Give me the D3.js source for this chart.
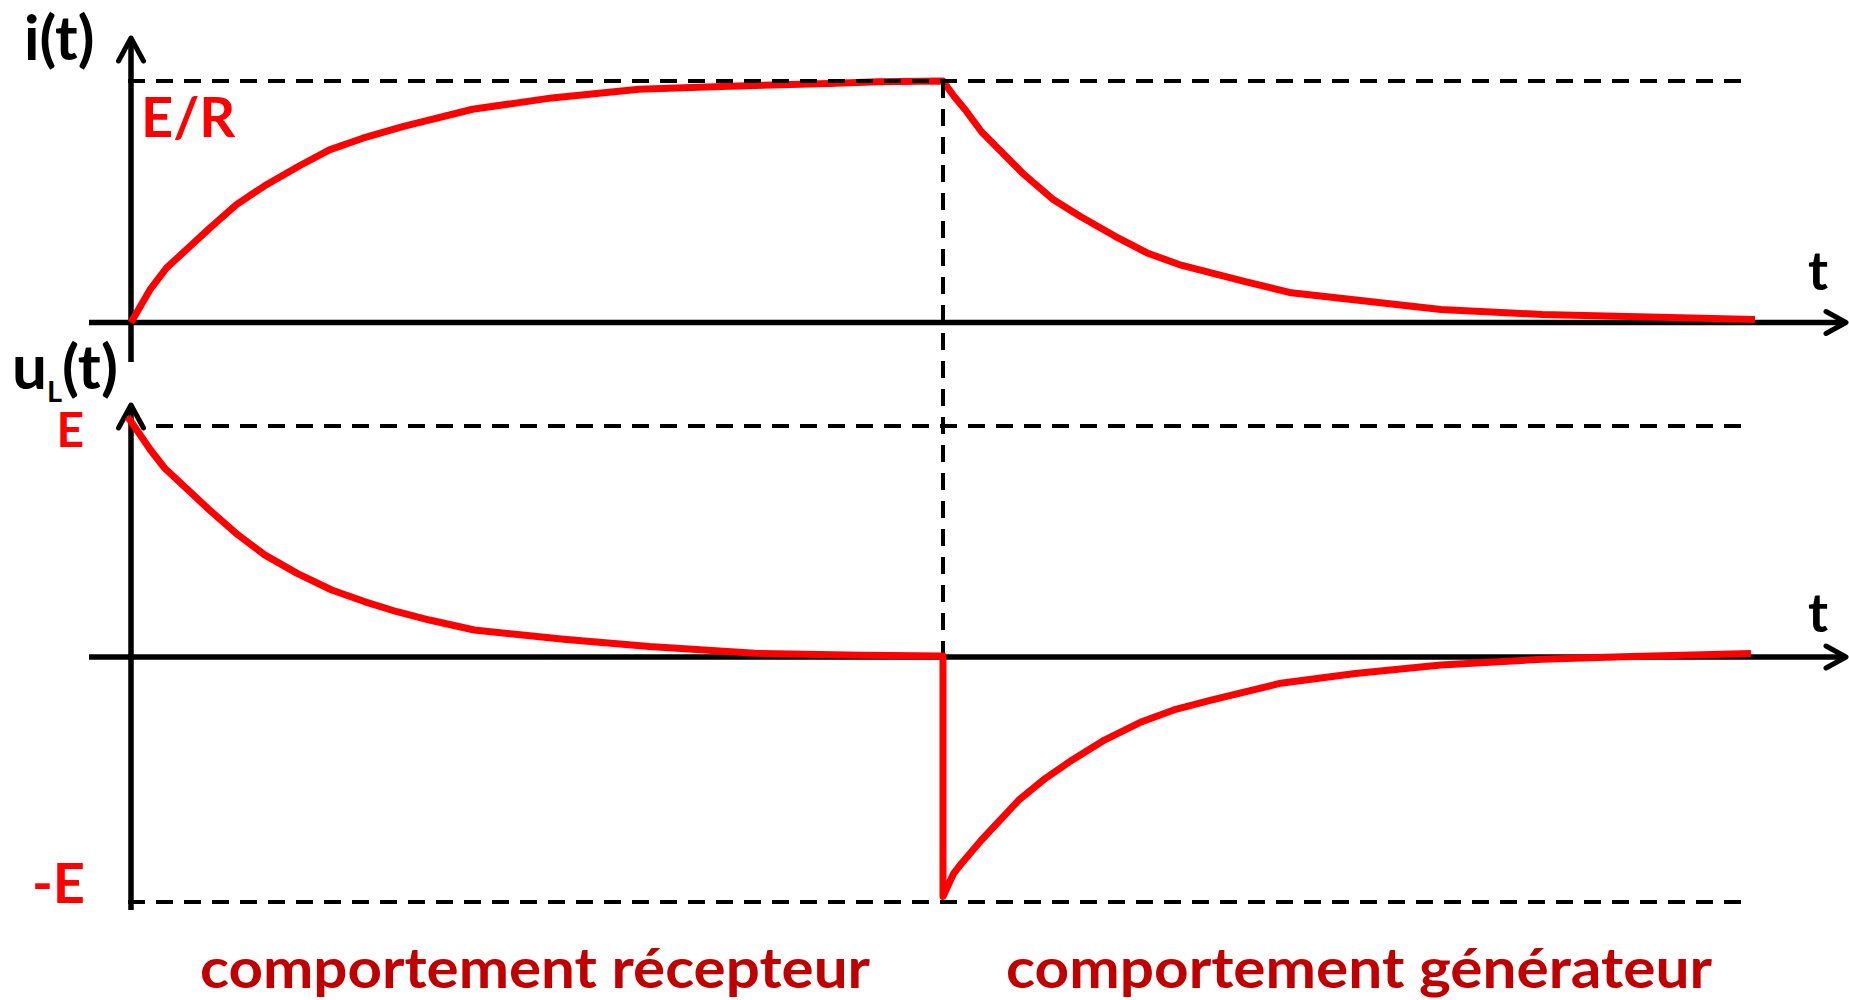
<!DOCTYPE html>
<html>
<head>
<meta charset="utf-8">
<script src="https://d3js.org/d3.v7.min.js"></script>
<style>
  body { margin: 0px; background: #fff; }
  .lbl { font-family: Lato, "Open Sans", sans-serif; font-weight: bold; }
</style>
</head>
<body>
<svg id="chart" width="1849" height="1000"></svg>
<script>
// time in units of tau, switch at t = 5
var iTime  = [0, 0.117, 0.219, 0.485, 0.649, 0.823, 1.038, 1.222, 1.427, 1.673, 2.103, 2.592, 3.127, 3.686, 4.3, 4.6, 5.0,
              5.07, 5.138, 5.237, 5.5, 5.681, 5.846, 6.06, 6.257, 6.454, 6.849, 7.145, 8.066, 8.69, 10.0];
var iValue = [0, 0.136, 0.226, 0.391, 0.488, 0.566, 0.649, 0.715, 0.763, 0.811, 0.883, 0.930, 0.966, 0.978, 0.99, 0.997, 1.0,
              0.935, 0.880, 0.790, 0.612, 0.508, 0.439, 0.357, 0.288, 0.240, 0.171, 0.123, 0.054, 0.033, 0.012];

var uTime  = [-0.02, 0.12, 0.208, 0.484, 0.66, 0.823, 1.023, 1.236, 1.437, 1.638, 1.838, 2.114, 2.665, 3.192, 3.843, 4.5, 5.0,
              5.0, 5.066, 5.115, 5.237, 5.467, 5.631, 5.796, 5.994, 6.224, 6.421, 6.651, 7.079, 7.539, 8.066, 8.69, 9.185, 9.975];
var uValue = [1.04, 0.896, 0.817, 0.636, 0.528, 0.442, 0.362, 0.290, 0.240, 0.196, 0.160, 0.117, 0.077, 0.045, 0.016, 0.008, 0.004,
              -0.978, -0.883, -0.842, -0.747, -0.584, -0.495, -0.420, -0.339, -0.264, -0.216, -0.176, -0.107, -0.067, -0.033, -0.009, 0.001, 0.015];

var levelsTop = [1];        // E/R
var levelsBot = [1, -1];    // E, -E
var tSwitch = 5;

var svg = d3.select("#chart");

var x = d3.scaleLinear().domain([0, 5]).range([131, 943]);
var yTop = d3.scaleLinear().domain([0, 1]).range([322.5, 81]);
var yBot = d3.scaleLinear().domain([-1, 0, 1]).range([902, 657, 426]);

var red = "#ff0000";

function chevron(tip, a, b) {
  svg.append("polyline")
    .attr("points", [a, tip, b].map(function(p) { return p.join(","); }).join(" "))
    .attr("fill", "none").attr("stroke", "#000").attr("stroke-width", 5)
    .attr("stroke-linecap", "round").attr("stroke-linejoin", "round");
}

function axesFor(y, yMin, yMax) {
  var x0 = x(0), xa = x.invert(89), xb = x.invert(1846);
  // horizontal axis
  svg.append("line")
    .attr("x1", x(xa)).attr("x2", x(xb) - 3)
    .attr("y1", y(0)).attr("y2", y(0))
    .attr("stroke", "#000").attr("stroke-width", 5.5);
  chevron([x(xb), y(0)], [x(xb) - 20, y(0) - 11], [x(xb) - 20, y(0) + 11]);
  // vertical axis
  svg.append("line")
    .attr("x1", x0).attr("x2", x0)
    .attr("y1", yMin + 2).attr("y2", yMax)
    .attr("stroke", "#000").attr("stroke-width", 5.5);
  chevron([x0, yMin], [x0 - 12.5, yMin + 23], [x0 + 12.5, yMin + 23]);
}

axesFor(yTop, 38, 362);
axesFor(yBot, 405, 910);

var line = function(y) {
  return d3.line().x(function(d) { return x(d[0]); }).y(function(d) { return y(d[1]); });
};

// i(t)
svg.append("path")
  .datum(d3.zip(iTime, iValue))
  .attr("d", line(yTop))
  .attr("fill", "none").attr("stroke", red).attr("stroke-width", 7)
  .attr("stroke-linejoin", "round");

// dashed reference lines
var dash = "17,11";
levelsTop.forEach(function(v) {
  svg.append("line")
    .attr("x1", 128).attr("x2", 1741)
    .attr("y1", yTop(v)).attr("y2", yTop(v))
    .attr("stroke", "#000").attr("stroke-width", 4).attr("stroke-dasharray", dash);
});
levelsBot.forEach(function(v) {
  svg.append("line")
    .attr("x1", v > 0 ? 156 : 128).attr("x2", 1741)
    .attr("y1", yBot(v)).attr("y2", yBot(v))
    .attr("stroke", "#000").attr("stroke-width", 4).attr("stroke-dasharray", dash);
});
svg.append("line")
  .attr("x1", x(tSwitch)).attr("x2", x(tSwitch))
  .attr("y1", yTop(1)).attr("y2", yBot(0))
  .attr("stroke", "#000").attr("stroke-width", 4).attr("stroke-dasharray", dash);

// uL(t)
svg.append("path")
  .datum(d3.zip(uTime, uValue))
  .attr("d", line(yBot))
  .attr("fill", "none").attr("stroke", red).attr("stroke-width", 7)
  .attr("stroke-linejoin", "round");

// labels
function label(txt, px, py, size, color, anchor) {
  return svg.append("text").attr("class", "lbl")
    .attr("x", px).attr("y", py)
    .attr("font-size", size).attr("fill", color)
    .attr("text-anchor", anchor || "start")
    .text(txt);
}

label("i(t)", 24, 60, 61, "#000");
var ul = svg.append("text").attr("class", "lbl").attr("x", 12).attr("y", 389).attr("font-size", 62).attr("fill", "#000");
ul.append("tspan").text("u");
ul.append("tspan").attr("font-size", 29).attr("dy", 13).text("L");
ul.append("tspan").attr("dy", -13).text("(t)");

label("t", 1808, 290, 54, "#000");
label("t", 1808, 632, 54, "#000");

label("E/R", 141, 137, 56, red);
label("E", 84, 447, 48, red, "end");
label("-E", 85, 903, 56, red, "end");

label("comportement récepteur", 200, 988, 56, "#c00000").attr("textLength", 670).attr("lengthAdjust", "spacingAndGlyphs");
label("comportement générateur", 1006, 988, 56, "#c00000").attr("textLength", 706).attr("lengthAdjust", "spacingAndGlyphs");
</script>
</body>
</html>
